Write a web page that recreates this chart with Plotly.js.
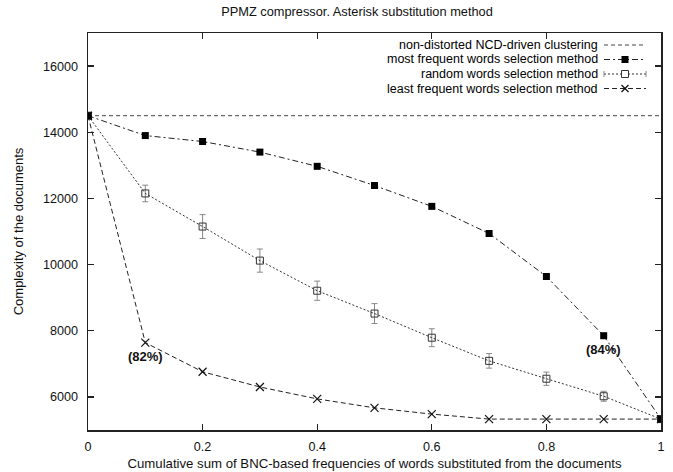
<!DOCTYPE html>
<html>
<head>
<meta charset="utf-8">
<script src="https://cdn.plot.ly/plotly-3.0.1.min.js"></script>
<style>html,body{margin:0;padding:0;background:#fff;}#chart{width:673px;height:472px;}</style>
</head>
<body>
<div id="chart"></div>
<script>
// ---- data ----
const xValues = [0, 0.1, 0.2, 0.3, 0.4, 0.5, 0.6, 0.7, 0.8, 0.9, 1.0];
const baselineX = [0, 1];
const baselineY = [14500, 14500];
const mostFrequent = [14500, 13900, 13720, 13400, 12970, 12390, 11760, 10940, 9640, 7850, 5330];
const randomWords = [14500, 12150, 11150, 10120, 9210, 8520, 7790, 7090, 6550, 6020, 5330];
const randomErr = [0, 250, 360, 350, 290, 300, 270, 220, 200, 150, 0];
const leastFrequent = [14500, 7640, 6760, 6300, 5940, 5670, 5480, 5330, 5330, 5330, 5330];
const seriesNames = [
  "non-distorted NCD-driven clustering",
  "most frequent words selection method",
  "random words selection method",
  "least frequent words selection method"
];
const noteX = [0.1, 0.9];
const noteY = [7640, 7850];
const noteText = ["(82%)", "(84%)"];
const xTicks = [0, 0.2, 0.4, 0.6, 0.8, 1];
const xTickText = ["0", "0.2", "0.4", "0.6", "0.8", "1"];
const yTicks = [6000, 8000, 10000, 12000, 14000, 16000];
const yTickText = ["6000", "8000", "10000", "12000", "14000", "16000"];

// ---- plot geometry helpers (for legend key only) ----
const L = 88, R = 661, T = 33, B = 430;
const px = x => (x - L) / (R - L);
const py = y => (B - y) / (B - T);

const FONT = "Liberation Sans, Arial, Helvetica, sans-serif";

const traces = [
  {x: baselineX, y: baselineY, mode: "lines", name: seriesNames[0],
   line: {color: "#444", width: 1, dash: "4px,3px"}, showlegend: false},
  {x: xValues, y: randomWords, mode: "lines+markers", name: seriesNames[2],
   line: {color: "#333", width: 1, dash: "2px,2px"},
   marker: {symbol: "square-open", size: 7, color: "#333", line: {width: 1}},
   error_y: {type: "data", array: randomErr, visible: true, color: "#888", thickness: 1, width: 3},
   showlegend: false},
  {x: xValues, y: leastFrequent, mode: "lines+markers", name: seriesNames[3],
   line: {color: "#222", width: 1, dash: "5px,3px"},
   marker: {symbol: "x-thin-open", size: 8, color: "#111", line: {width: 1.2, color: "#111"}},
   showlegend: false},
  {x: xValues, y: mostFrequent, mode: "lines+markers", name: seriesNames[1],
   line: {color: "#222", width: 1, dash: "6px,3px,2px,3px"},
   marker: {symbol: "square", size: 7, color: "#000"},
   showlegend: false}
];

// custom gnuplot-style legend: text right-aligned, sample on the right
const legendRows = [45, 59.5, 74, 88.5];
const keyStyles = [
  {color: "#444", dash: "4px,3px"},
  {color: "#222", dash: "6px,3px,2px,3px"},
  {color: "#333", dash: "2px,2px"},
  {color: "#222", dash: "5px,3px"}
];
const annotations = [];
const shapes = [];
seriesNames.forEach((n, i) => {
  annotations.push({xref: "paper", yref: "paper", x: px(599), y: py(legendRows[i]),
    xanchor: "right", yanchor: "middle", text: n, showarrow: false, borderpad: 0,
    font: {family: FONT, size: 12.5, color: "#000"}});
  shapes.push({type: "line", xref: "paper", yref: "paper",
    x0: px(604), x1: px(646), y0: py(legendRows[i]), y1: py(legendRows[i]),
    line: {color: keyStyles[i].color, width: 1, dash: keyStyles[i].dash}});
});
const cx = 625;
shapes.push({type: "rect", xref: "paper", yref: "paper",
  x0: px(cx - 3.5), x1: px(cx + 3.5), y0: py(legendRows[1] - 3.5), y1: py(legendRows[1] + 3.5),
  fillcolor: "#000", line: {width: 0}});
shapes.push({type: "rect", xref: "paper", yref: "paper",
  x0: px(cx - 3.5), x1: px(cx + 3.5), y0: py(legendRows[2] - 3.5), y1: py(legendRows[2] + 3.5),
  fillcolor: "#fff", line: {width: 1, color: "#333"}});
[604, 646].forEach(ex => shapes.push({type: "line", xref: "paper", yref: "paper",
  x0: px(ex), x1: px(ex), y0: py(legendRows[2] - 3), y1: py(legendRows[2] + 3),
  line: {width: 1, color: "#888"}}));
shapes.push({type: "line", xref: "paper", yref: "paper",
  x0: px(cx - 3.5), x1: px(cx + 3.5), y0: py(legendRows[3] - 3.5), y1: py(legendRows[3] + 3.5),
  line: {width: 1.2, color: "#111"}});
shapes.push({type: "line", xref: "paper", yref: "paper",
  x0: px(cx - 3.5), x1: px(cx + 3.5), y0: py(legendRows[3] + 3.5), y1: py(legendRows[3] - 3.5),
  line: {width: 1.2, color: "#111"}});

noteX.forEach((x, i) => annotations.push({x: x, y: noteY[i], xref: "x", yref: "y",
  text: "<b>" + noteText[i] + "</b>", showarrow: false, yshift: -14,
  font: {family: FONT, size: 13, color: "#111"}}));

const axisCommon = {
  showgrid: false, zeroline: false, showline: true, linecolor: "#222", linewidth: 1.5,
  mirror: "allticks", ticks: "inside", ticklen: 6, tickwidth: 1.3, tickcolor: "#222",
  tickfont: {family: FONT, size: 12.6, color: "#111"}
};

const layout = {
  width: 673, height: 472,
  margin: {l: L, r: 673 - R, t: T, b: 472 - B},
  paper_bgcolor: "#fff", plot_bgcolor: "#fff",
  showlegend: false,
  title: {text: "PPMZ compressor. Asterisk substitution method", x: 357 / 673, xref: "container",
    xanchor: "center", y: 1 - 12 / 472, yref: "container", yanchor: "middle",
    font: {family: FONT, size: 12.8, color: "#111"}},
  xaxis: Object.assign({}, axisCommon, {range: [0, 1], tickvals: xTicks, ticktext: xTickText,
    ticklabelstandoff: 4,
    title: {text: "Cumulative sum of BNC-based frequencies of words substituted from the documents",
      font: {family: FONT, size: 13.2, color: "#111"}, standoff: 6}}),
  yaxis: Object.assign({}, axisCommon, {range: [5000, 17000], tickvals: yTicks, ticktext: yTickText,
    ticklabelstandoff: 6,
    title: {text: "Complexity of the documents", font: {family: FONT, size: 13, color: "#111"}, standoff: 16}}),
  annotations: annotations,
  shapes: shapes
};

Plotly.newPlot("chart", traces, layout, {displayModeBar: false, staticPlot: true});
</script>
</body>
</html>
